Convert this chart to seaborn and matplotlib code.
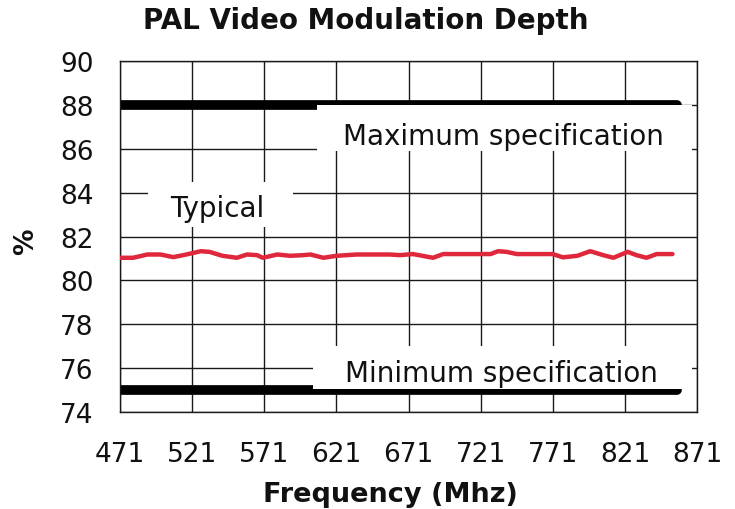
import matplotlib
matplotlib.use("Agg")
import matplotlib.pyplot as plt
from matplotlib.patches import Rectangle
import numpy as np
import pandas as pd
import seaborn as sns

# ---- data ----
freq_typ = [471, 480, 490, 499, 508, 517, 527, 533, 542, 552, 559, 566, 570, 580, 589,
            598, 603, 612, 621, 635, 658, 665, 674, 688, 695, 728, 733, 739, 746, 771,
            778, 788, 797, 806, 813, 823, 829, 836, 843, 854]
pct_typ = [81.03, 81.03, 81.18, 81.18, 81.06, 81.18, 81.33, 81.30, 81.12, 81.03, 81.18, 81.15,
           81.03, 81.18, 81.12, 81.15, 81.18, 81.03, 81.12, 81.18, 81.18, 81.15, 81.20, 81.03,
           81.20, 81.20, 81.33, 81.30, 81.20, 81.20, 81.05, 81.12, 81.33, 81.15, 81.03, 81.30,
           81.15, 81.03, 81.20, 81.20]
spec_freq = [471, 857]
max_spec = [88, 88]
min_spec = [75, 75]
x_ticks = [471, 521, 571, 621, 671, 721, 771, 821, 871]
y_ticks = [74, 76, 78, 80, 82, 84, 86, 88, 90]
title = "PAL Video Modulation Depth"
x_label = "Frequency (Mhz)"
y_label = "%"
label_max = "Maximum specification"
label_min = "Minimum specification"
label_typ = "Typical"

sns.set_theme(style="white")
plt.rcParams["font.family"] = ["DejaVu Sans"]

fig = plt.figure(figsize=(7.35, 5.1), dpi=100)
ax = fig.add_axes([0.1633, 0.1902, 0.785, 0.6882])

typ = pd.DataFrame({"f": freq_typ, "p": pct_typ})
spec = pd.DataFrame({"f": spec_freq * 2, "p": max_spec + min_spec,
                     "s": ["max", "max", "min", "min"]})

sns.lineplot(data=spec[spec.s == "max"], x="f", y="p", ax=ax, color="black",
             linewidth=7, zorder=2, solid_capstyle="round")
sns.lineplot(data=spec[spec.s == "min"], x="f", y="p", ax=ax, color="black",
             linewidth=7, zorder=2, solid_capstyle="round")
sns.lineplot(data=typ, x="f", y="p", ax=ax, color="#E0283C", linewidth=3.2,
             zorder=6, solid_capstyle="round")

ax.set_xlim(471, 871)
ax.set_ylim(74, 90)
ax.set_xticks(x_ticks)
ax.set_yticks(y_ticks)
ax.grid(True, color="#1a1a1a", linewidth=1.0)
ax.set_axisbelow(True)
for s in ax.spines.values():
    s.set_visible(True)
    s.set_color("#1a1a1a")
    s.set_linewidth(1.0)
ax.tick_params(axis="both", direction="out", length=7, width=1.0, color="#1a1a1a",
               labelsize=19, labelcolor="#111111")
ax.tick_params(axis="x", pad=14)
ax.tick_params(axis="y", pad=12)
ax.set_xlabel("")
ax.set_ylabel("")

# white label boxes (cover grid, as in the original)
for (x0, x1, y0, y1) in [(607.5, 867.5, 85.9, 88.0),
                         (604.8, 867.5, 75.05, 77.0),
                         (490.4, 591.0, 82.45, 84.48)]:
    ax.add_patch(Rectangle((x0, y0), x1 - x0, y1 - y0, facecolor="white",
                           edgecolor="none", zorder=3, clip_on=False))

ax.text(625.6, 86.22, label_max, fontsize=20, ha="left", va="baseline",
        color="#111111", zorder=4)
ax.text(627.0, 75.43, label_min, fontsize=20, ha="left", va="baseline",
        color="#111111", zorder=4)
ax.text(505.7, 82.95, label_typ, fontsize=20, ha="left", va="baseline",
        color="#111111", zorder=4)

fig.text(366 / 735, 1 - 29 / 510, title, ha="center", va="baseline",
         fontsize=20, fontweight="bold", color="#111111")
fig.text(390 / 735, 1 - 502 / 510, x_label, ha="center", va="baseline",
         fontsize=19.5, fontweight="bold", color="#111111")
fig.text(26 / 735, 1 - 242 / 510, y_label, ha="center", va="center",
         rotation=90, fontsize=19, fontweight="bold", color="#111111")

fig.savefig("out.png", dpi=100)
